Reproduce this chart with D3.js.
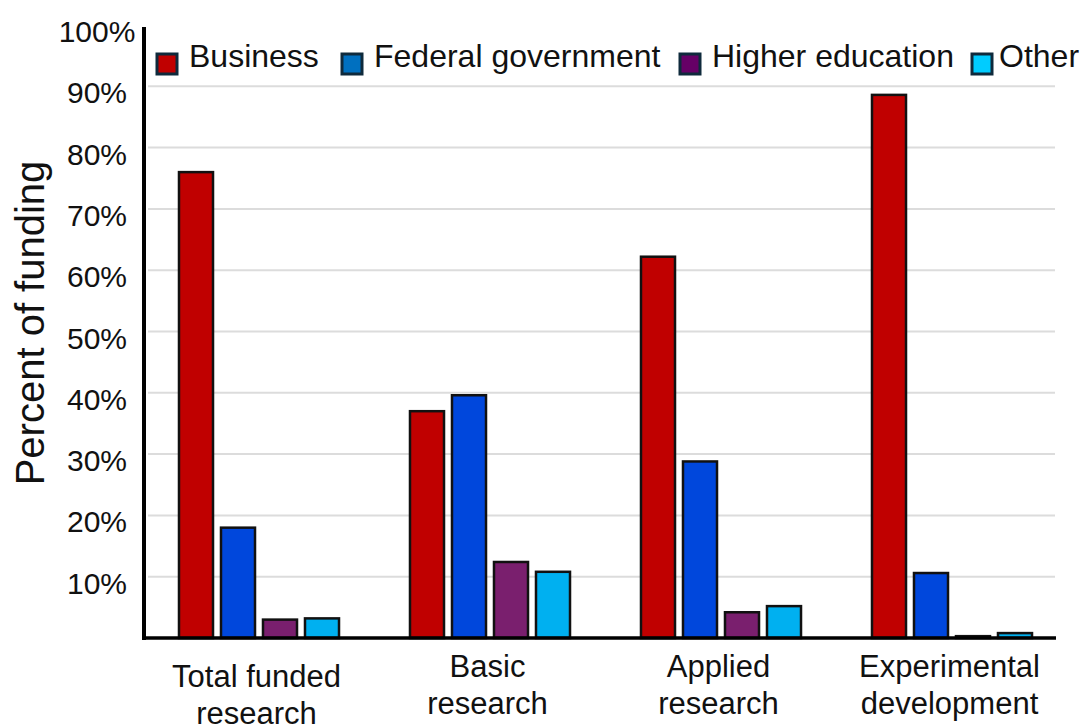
<!DOCTYPE html>
<html lang="en">
<head>
    <meta charset="UTF-8">
    <title>Percent of funding by type of research</title>
    <script src="https://d3js.org/d3.v7.min.js"></script>
    <style>
        body { margin: 0; background: #fff; }
        text { font-family: "Liberation Sans", Arial, sans-serif; fill: #111; }
    </style>
</head>
<body>
    <div id="my_dataviz"></div>

    <script>
        // categories on the x axis (each label split into two lines)
        var categories = ["Total funded research", "Basic research", "Applied research", "Experimental development"];
        var categoryLines = [["Total funded", "research"], ["Basic", "research"], ["Applied", "research"], ["Experimental", "development"]];

        // funding sources
        var series = ["Business", "Federal government", "Higher education", "Other"];

        // percent of funding, one array per source, in category order
        var business   = [76.0, 37.0, 62.2, 88.6];
        var federal    = [18.0, 39.6, 28.8, 10.6];
        var higherEd   = [3.0, 12.4, 4.2, 0.3];
        var other      = [3.2, 10.8, 5.2, 0.8];

        var yTicks = [10, 20, 30, 40, 50, 60, 70, 80, 90, 100];
        var gridTicks = [10, 20, 30, 40, 50, 60, 70, 80, 90];

        var barColors    = ["#c00000", "#0047dc", "#7a1f6e", "#00b0f0"];
        var legendColors = ["#c00000", "#0070c0", "#660066", "#00ccff"];

        var width = 1083, height = 725;
        var plotLeft = 144, plotBottom = 638, plotTop = 25;

        var values = [business, federal, higherEd, other];
        var data = categories.map(function(c, i) {
            return { group: c, lines: categoryLines[i], vals: series.map(function(s, j) { return { key: s, value: values[j][i] }; }) };
        });

        var svg = d3.select("#my_dataviz")
            .append("svg")
            .attr("width", width)
            .attr("height", height);

        var x = d3.scaleBand()
            .domain(categories)
            .range([plotLeft, plotLeft + 924]);

        var xSub = d3.scaleBand()
            .domain(series)
            .range([31, 199])
            .paddingInner(0.19)
            .paddingOuter(0.095);

        var y = d3.scaleLinear()
            .domain([0, 100])
            .range([plotBottom, plotTop]);

        var color = d3.scaleOrdinal().domain(series).range(barColors);

        // gridlines
        svg.append("g")
            .selectAll("line")
            .data(gridTicks)
            .enter().append("line")
                .attr("x1", plotLeft + 4)
                .attr("x2", 1055)
                .attr("y1", function(d) { return y(d); })
                .attr("y2", function(d) { return y(d); })
                .attr("stroke", "#dcdcdc")
                .attr("stroke-width", 2);

        // y tick labels (centered, as in the original)
        var yAxis = svg.append("g")
            .attr("transform", "translate(" + plotLeft + ",0)")
            .call(d3.axisLeft(y).tickValues(yTicks).tickSize(0).tickFormat(function(d) { return d + "%"; }));
        yAxis.select(".domain").remove();
        yAxis.selectAll("text")
            .attr("x", 97 - plotLeft)
            .attr("dy", "0.55em")
            .attr("text-anchor", "middle")
            .style("font-size", "30px")
            .style("font-family", "'Liberation Sans', Arial, sans-serif")
            .attr("fill", "#111");

        // bars
        svg.append("g")
            .selectAll("g")
            .data(data)
            .enter()
            .append("g")
                .attr("transform", function(d) { return "translate(" + x(d.group) + ",0)"; })
            .selectAll("rect")
            .data(function(d) { return d.vals; })
            .enter().append("rect")
                .attr("x", function(d) { return xSub(d.key); })
                .attr("y", function(d) { return y(d.value); })
                .attr("width", xSub.bandwidth())
                .attr("height", function(d) { return plotBottom - y(d.value); })
                .attr("fill", function(d) { return color(d.key); })
                .attr("stroke", "#111")
                .attr("stroke-width", 2.5);

        // axis lines
        svg.append("line")
            .attr("x1", plotLeft).attr("x2", plotLeft)
            .attr("y1", 27).attr("y2", plotBottom + 2)
            .attr("stroke", "#000").attr("stroke-width", 4);
        svg.append("line")
            .attr("x1", plotLeft - 2).attr("x2", 1056)
            .attr("y1", plotBottom).attr("y2", plotBottom)
            .attr("stroke", "#000").attr("stroke-width", 3.5);

        // x labels
        var xl = svg.append("g")
            .selectAll("text")
            .data(data)
            .enter().append("text")
                .attr("text-anchor", "middle")
                .attr("x", function(d) { return x(d.group) + x.bandwidth() / 2 - 3; })
                .attr("y", function(d, i) { return i === 0 ? 687 : 677; })
                .style("font-size", "31px");
        xl.selectAll("tspan")
            .data(function(d) { return d.lines; })
            .enter().append("tspan")
                .attr("x", function() { return d3.select(this.parentNode).attr("x"); })
                .attr("dy", function(d, i) { return i === 0 ? 0 : 37; })
                .text(function(d) { return d; });

        // y title
        svg.append("text")
            .attr("transform", "translate(44,323) rotate(-90)")
            .attr("text-anchor", "middle")
            .style("font-size", "40px")
            .text("Percent of funding");

        // legend
        var legendX = [157, 342, 680, 972];
        var legend = svg.append("g")
            .selectAll("g")
            .data(series)
            .enter().append("g")
                .attr("transform", function(d, i) { return "translate(" + legendX[i] + ",0)"; });
        legend.append("rect")
            .attr("x", 0).attr("y", 54)
            .attr("width", 20).attr("height", 20)
            .attr("fill", function(d, i) { return legendColors[i]; })
            .attr("stroke", "#0f2a3c")
            .attr("stroke-width", 3);
        legend.append("text")
            .attr("x", function(d, i) { return i === series.length - 1 ? 27 : 32; })
            .attr("y", 67)
            .style("font-size", "32px")
            .text(function(d) { return d; });
    </script>
</body>
</html>
